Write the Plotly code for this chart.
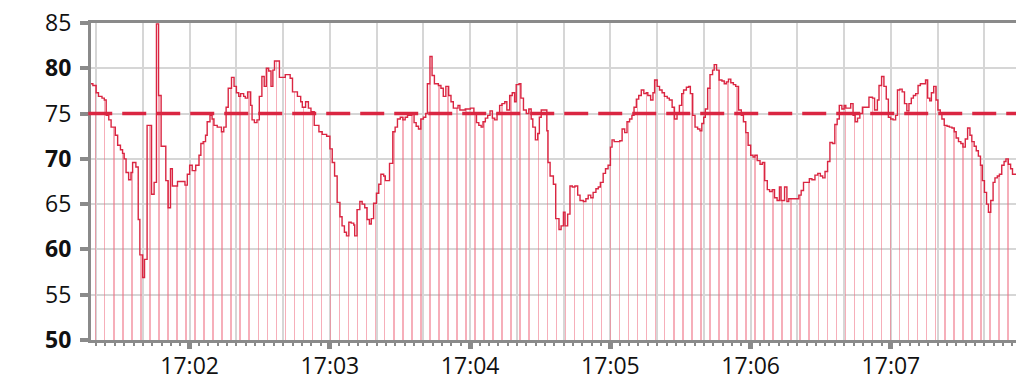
import numpy as np
import pandas as pd
import plotly.graph_objects as go

# ---- data (seconds after 17:00:00, reading value) ----
step_sec = [
    77.8, 78.6, 80.0, 81.0, 82.5, 83.5, 84.3, 85.4, 86.4, 88.2, 89.2, 90.4, 91.3, 92.0, 92.8, 93.9,
    94.9, 95.6, 97.0, 98.0, 98.7, 99.9, 100.7, 101.8, 103.7, 104.8, 105.8, 106.7, 107.8, 109.8,
    110.8, 111.8, 112.6, 114.8, 118.0, 119.0, 120.0, 121.1, 122.6, 124.0, 124.8, 125.8, 126.8,
    127.5, 128.7, 129.6, 130.4, 131.8, 133.6, 134.6, 135.6, 136.5, 137.9, 139.0, 140.0, 141.0,
    141.8, 143.1, 143.8, 144.8, 146.1, 146.7, 147.7, 148.8, 149.8, 150.9, 151.9, 152.8, 153.8,
    154.8, 155.6, 156.3, 158.4, 160.9, 163.0, 164.0, 166.1, 167.5, 168.2, 169.6, 170.8, 171.9,
    173.3, 175.3,
    176.7, 178.6, 180.0, 181.0, 182.0, 183.1, 184.3, 185.2, 186.2, 187.1, 188.1, 189.1, 190.2,
    190.6, 191.6, 192.8, 193.8, 194.9, 195.9, 196.9, 197.7, 198.7, 199.9, 200.9, 201.8, 203.0,
    203.7, 205.5, 206.9, 207.9, 208.9, 210.1, 211.2, 212.2, 213.2, 215.0, 216.0, 216.9, 217.9,
    218.9, 220.0, 221.0, 221.7, 222.8, 223.7, 224.7, 226.4, 227.5, 228.5, 229.6, 230.8, 231.8,
    232.8, 234.8, 235.6, 237.9, 240.1, 241.6, 242.7, 243.7, 244.7, 245.5, 246.5, 247.5, 248.5,
    249.5, 250.5, 251.5, 252.6, 253.6, 254.8, 255.7, 256.9, 258.0, 259.0, 259.7, 260.9, 261.7,
    262.8, 264.0, 265.1, 266.1, 266.8, 267.9, 268.9, 269.6, 270.4, 272.8, 273.3, 274.2,
    275.6, 276.6, 278.0, 278.9, 279.9, 280.6, 281.7, 282.7, 283.7, 284.8, 286.0, 287.0, 288.4,
    289.5, 290.5, 291.6, 292.6, 293.8, 294.8, 295.7, 296.9, 297.9, 299.0, 300.0, 300.7, 301.6,
    304.0, 305.0, 306.1, 307.1, 308.2, 309.2, 310.1, 311.1, 312.1, 313.2, 314.3, 315.3, 316.0,
    317.2, 318.2, 318.9, 320.0, 321.0, 322.1, 323.1, 324.3, 325.2, 326.4, 327.4, 328.5, 329.5,
    330.5, 331.3, 332.5, 333.5, 334.2, 335.2, 336.2, 337.3, 338.3, 339.1, 339.9, 340.6, 341.6,
    342.6, 343.7, 344.4, 345.4, 346.5, 347.7, 348.7, 349.6, 350.5, 351.5, 352.6, 353.6, 354.8,
    356.0, 356.9, 357.9, 358.9, 360.0, 361.0, 361.8, 362.8, 364.0, 365.0, 366.0, 367.1, 368.1,
    369.2, 370.2, 371.3, 372.3, 373.0,
    374.5, 375.5, 376.3, 380.6, 381.6, 382.6, 385.1, 386.2, 387.5, 388.7, 389.8, 390.8, 391.8,
    392.9, 393.9, 395.0, 396.0, 397.0, 397.9, 399.0, 400.0, 400.7, 402.8, 403.8, 404.7, 405.7,
    406.7, 407.8, 410.6, 412.1, 413.0, 414.2, 414.9, 416.0, 417.0, 418.0, 418.9, 419.9, 420.9,
    422.0, 422.8, 423.8, 424.8, 425.8, 426.8, 427.7, 428.7, 429.6, 430.6, 431.6, 432.6, 434.8,
    435.7, 436.6, 437.3, 438.3, 439.3, 440.1, 441.1, 441.8, 442.8, 444.0, 445.0, 446.1, 447.1,
    447.9, 448.9, 449.9, 450.8, 451.8, 452.8, 453.8, 454.6, 455.6, 456.5, 457.4, 458.3, 459.1,
    460.0, 460.9, 461.7, 462.7, 463.7, 464.5, 465.5, 466.4, 467.4, 468.4, 469.2, 470.2, 471.2,
    472.0,
]
step_val = [
    78.3, 78.1, 77.3, 76.9, 76.7, 76.5, 74.8, 74.3, 73.5, 72.6, 71.5, 71.0, 70.6, 70.0, 68.5, 67.7,
    68.5, 69.6, 69.1, 63.3, 59.4, 56.9, 58.9, 73.7, 66.1, 67.4, 84.9, 77.0, 71.4, 67.6,
    64.6, 68.9, 67.0, 67.5, 67.1, 68.3, 69.3, 68.7, 69.3, 70.4, 71.7, 71.9, 72.6,
    74.1, 74.8, 74.4, 73.7, 73.5, 73.0, 73.5, 75.7, 77.8, 79.0, 78.0, 77.3, 76.9,
    77.2, 76.9, 76.7, 77.4, 75.9, 74.3, 74.0, 74.3, 76.9, 79.1, 78.0, 80.0, 79.7,
    78.0, 79.8, 80.8, 79.0, 79.3, 78.9, 77.4, 76.9, 76.3, 75.7, 76.3, 75.6, 75.2,
    73.7, 73.0,
    72.7, 72.5, 71.1, 69.6, 68.1, 65.2, 63.6, 62.6, 61.9, 61.5, 63.0, 62.9, 62.7,
    61.5, 64.4, 65.3, 65.0, 64.6, 63.3, 62.8, 63.4, 65.1, 66.2, 67.2, 68.3, 68.1,
    67.6, 69.5, 73.0, 73.5, 74.4, 74.6, 74.3, 74.6, 74.8, 75.0, 74.0, 73.6, 73.3,
    74.4, 74.6, 75.0, 78.3, 81.3, 79.2, 78.3, 78.1, 77.8, 76.9, 78.0, 77.0, 76.3,
    75.6, 75.9, 75.4, 75.5, 75.6, 75.1, 74.0, 73.7, 73.5, 74.1, 74.5, 74.8, 75.3,
    74.5, 74.3, 75.0, 75.9, 76.1, 76.3, 75.4, 77.0, 77.3, 76.3, 78.2, 78.3, 76.7,
    75.4, 75.0, 75.5, 74.4, 73.5, 72.1, 72.8, 74.6, 75.4, 73.1, 69.6, 68.1,
    67.2, 63.4, 62.2, 62.6, 64.1, 62.6, 63.9, 67.0, 66.9, 67.0, 66.0, 65.4, 65.3,
    65.6, 66.0, 65.7, 66.3, 66.7, 66.9, 67.4, 68.4, 68.9, 69.3, 71.3, 72.1, 71.9,
    72.0, 73.3, 72.9, 74.1, 74.4, 74.8, 75.7, 76.6, 77.0, 77.6, 77.2, 77.3, 77.0,
    76.5, 77.3, 78.7, 78.0, 77.6, 77.3, 76.9, 76.7, 76.5, 75.7, 74.4, 75.0, 75.9,
    77.2, 77.6, 77.9, 78.0, 77.2, 74.8, 73.5, 73.3, 73.1, 73.9, 74.6, 75.5, 77.8,
    79.3, 79.8, 80.4, 79.8, 78.7, 78.6, 78.3, 78.5, 78.8, 78.4, 78.2, 78.0, 75.4,
    74.8, 74.1, 72.9, 71.5, 70.4, 70.2, 70.4, 69.8, 69.4, 69.6, 67.6, 66.6, 66.4,
    66.6, 65.7, 65.4, 66.9, 65.4,
    66.9, 65.3, 65.6, 66.0, 66.5, 67.4, 67.8, 67.7, 68.2, 68.4, 68.1, 67.9, 68.6,
    69.7, 71.8, 71.7, 73.8, 74.4, 75.9, 75.5, 75.9, 75.6, 76.1, 74.8, 74.1, 74.5,
    75.0, 75.7, 76.8, 76.7, 75.4, 76.5, 78.1, 79.1, 78.0, 76.6, 74.6, 74.4, 74.3,
    74.8, 77.6, 77.7, 77.4, 76.1, 75.3, 76.1, 76.7, 77.0, 77.2, 78.1, 78.3, 78.7,
    76.7, 76.4, 77.3, 78.0, 76.5, 75.4, 75.0, 74.4, 73.7, 73.6, 73.5, 73.4, 73.0,
    72.3, 71.9, 71.7, 71.3, 72.2, 73.4, 72.6, 71.9, 71.4, 70.9, 70.3, 69.3, 67.6,
    66.3, 65.0, 64.1, 65.4, 67.4, 67.9, 68.1, 68.3, 69.3, 69.7, 70.0, 69.4, 68.9,
    68.3,
]
threshold = 75
y_ticks = [50, 55, 60, 65, 70, 75, 80, 85]
y_bold = [50, 60, 70, 80]

# sampling of the drop lines (sample instants)
sample_first = 79.8
sample_every = 3.864

x_start, x_end = 77.8, 473.5

BASE = pd.Timestamp("2024-01-01 17:00:00")


def ts(s):
    return BASE + pd.to_timedelta(np.asarray(s, dtype=float), unit="s")


sec = np.array(step_sec)
val = np.array(step_val)

# step line extended to the right edge
line_x = ts(np.append(sec, x_end))
line_y = np.append(val, val[-1])

sample_sec = np.arange(sample_first, x_end, sample_every)
idx = np.searchsorted(sec, sample_sec, side="right") - 1
idx = np.clip(idx, 0, len(val) - 1)
sample_val = val[idx]

RED = "rgb(218,38,66)"
GRAY = "#8a8a8a"
GRID = "#d6d6d6"
FONT = "Open Sans, Noto Sans, sans-serif"

fig = go.Figure()
fig.add_trace(go.Bar(
    x=ts(sample_sec), y=sample_val, width=650,
    marker=dict(color="rgba(238,110,130,0.55)", line=dict(width=0)),
    hoverinfo="skip",
))
fig.add_trace(go.Scatter(
    x=line_x, y=line_y, mode="lines", line=dict(shape="hv", color=RED, width=1.4),
))
fig.add_shape(type="line", xref="paper", x0=-0.003, x1=1, yref="y", y0=threshold, y1=threshold,
              line=dict(color=RED, width=3.5, dash="24px,10px"), layer="above")

major = pd.date_range(ts(80), ts(460), freq="20s")
major_text = [t.strftime("%H:%M") if t.second == 0 else "" for t in major]
minor = pd.date_range(ts(80), ts(472), freq="4s")

fig.update_layout(
    width=1016, height=380,
    margin=dict(l=91, r=0, t=23, b=40, autoexpand=False),
    paper_bgcolor="white", plot_bgcolor="white",
    showlegend=False, bargap=0,
    font=dict(family=FONT, color="#111111", size=23),
    xaxis=dict(
        type="date", range=[ts(x_start), ts(x_end)], automargin=False,
        tickmode="array", tickvals=major, ticktext=major_text,
        showgrid=True, gridcolor=GRID, gridwidth=2,
        ticks="outside", ticklen=6, tickwidth=5, tickcolor=GRAY,
        showline=True, linecolor=GRAY, linewidth=3, mirror=True,
        tickfont=dict(size=23, family=FONT), ticklabelstandoff=-3,
        ticklabeloverflow="allow",
        minor=dict(tickmode="array", tickvals=minor, ticks="outside", ticklen=3,
                   tickwidth=2, tickcolor=GRAY, showgrid=False),
        zeroline=False,
    ),
    yaxis=dict(
        range=[50, 85], tickmode="array", tickvals=y_ticks, automargin=False,
        ticktext=[f"<b>{v}</b>" if v in y_bold else str(v) for v in y_ticks],
        showgrid=True, gridcolor=GRID, gridwidth=2,
        ticks="outside", ticklen=8, tickwidth=4, tickcolor=GRAY,
        showline=True, linecolor=GRAY, linewidth=3,
        tickfont=dict(size=23, family=FONT),
        ticklabelstandoff=4, ticklabeloverflow="allow", zeroline=False,
    ),
)

# remove the default page margin so the 1016x380 figure fills the window exactly
fig.write_html(
    "out.html",
    config={"displayModeBar": False},
    post_script="document.body.style.margin='0';document.body.style.overflow='hidden';",
)
